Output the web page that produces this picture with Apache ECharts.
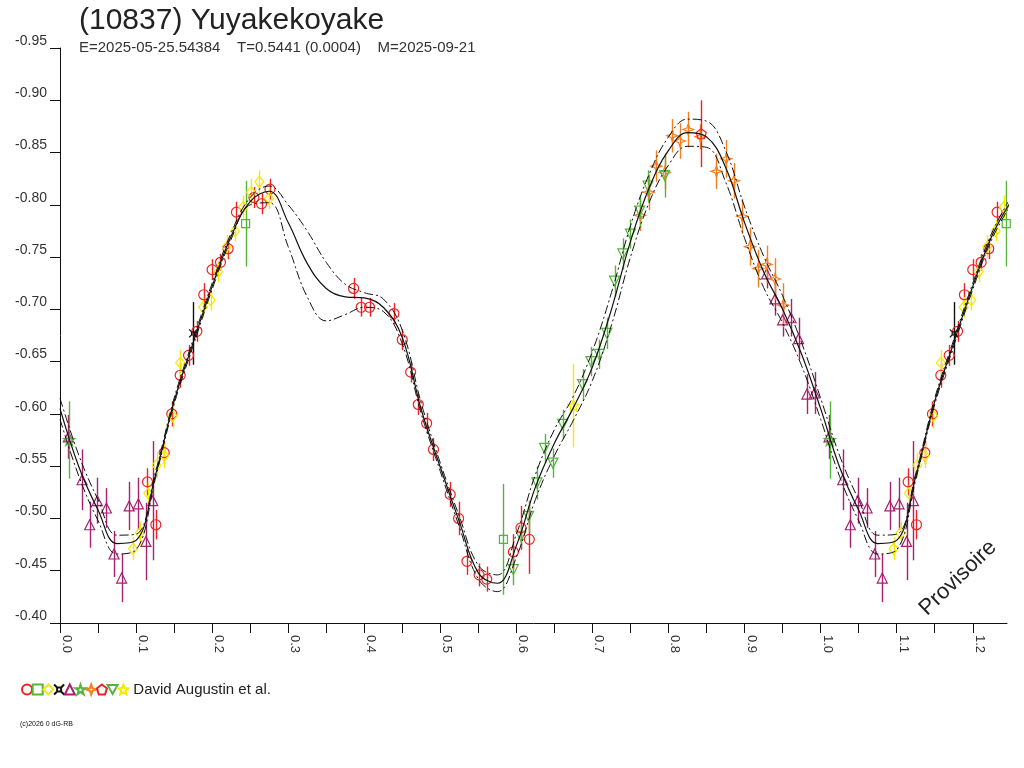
<!DOCTYPE html>
<html>
<head>
<meta charset="utf-8">
<title>(10837) Yuyakekoyake</title>
<script src="https://cdn.jsdelivr.net/npm/echarts@6/dist/echarts.min.js"></script>
<style>
  html, body { margin: 0; padding: 0; background: #fff; }
  #main { width: 1024px; height: 768px; }
</style>
</head>
<body>
<div id="main"></div>
<script>
// fitted light curve (solid) and its two limit curves, on a phase grid
const curvePhase = [0, 0.025, 0.05, 0.075, 0.1, 0.125, 0.15, 0.175, 0.2, 0.225,
  0.25, 0.275, 0.3, 0.325, 0.35, 0.375, 0.4, 0.425, 0.45, 0.475,
  0.5, 0.525, 0.55, 0.575, 0.6, 0.625, 0.65, 0.675, 0.7, 0.725,
  0.75, 0.775, 0.8, 0.825, 0.85, 0.875, 0.9, 0.925, 0.95, 0.975, 1.0];
const curveMid = [-0.605, -0.549, -0.508, -0.476, -0.479, -0.540, -0.612, -0.668, -0.722, -0.770,
  -0.803, -0.813, -0.783, -0.744, -0.720, -0.712, -0.711, -0.702, -0.673, -0.604,
  -0.549, -0.497, -0.448, -0.438, -0.474, -0.530, -0.572, -0.606, -0.645, -0.700,
  -0.765, -0.817, -0.852, -0.869, -0.865, -0.836, -0.783, -0.736, -0.700, -0.657, -0.605];
const curveUpper = [-0.615, -0.560, -0.518, -0.484, -0.485, -0.543, -0.615, -0.671, -0.725, -0.773,
  -0.807, -0.818, -0.800, -0.775, -0.745, -0.724, -0.716, -0.710, -0.680, -0.610,
  -0.553, -0.502, -0.455, -0.446, -0.485, -0.542, -0.585, -0.617, -0.660, -0.716,
  -0.780, -0.830, -0.865, -0.882, -0.880, -0.852, -0.798, -0.751, -0.713, -0.668, -0.615];
const curveLower = [-0.595, -0.540, -0.498, -0.466, -0.470, -0.537, -0.609, -0.665, -0.719, -0.767,
  -0.800, -0.802, -0.760, -0.712, -0.689, -0.695, -0.702, -0.698, -0.667, -0.600,
  -0.545, -0.492, -0.442, -0.430, -0.463, -0.518, -0.560, -0.594, -0.632, -0.685,
  -0.750, -0.803, -0.838, -0.856, -0.855, -0.822, -0.768, -0.721, -0.687, -0.646, -0.595];

// observations: [phase, magnitude, error]
const redCircle = [
  [0.115, -0.535, 0.013], [0.126, -0.494, 0.014], [0.137, -0.563, 0.011], [0.147, -0.600, 0.012],
  [0.158, -0.637, 0.012], [0.169, -0.656, 0.010], [0.180, -0.679, 0.010], [0.189, -0.714, 0.011],
  [0.200, -0.738, 0.010], [0.211, -0.745, 0.008], [0.221, -0.758, 0.010], [0.232, -0.793, 0.010],
  [0.255, -0.807, 0.010], [0.265, -0.801, 0.010], [0.276, -0.815, 0.010], [0.386, -0.720, 0.010],
  [0.396, -0.702, 0.009], [0.407, -0.702, 0.009], [0.439, -0.696, 0.010], [0.450, -0.671, 0.010],
  [0.461, -0.640, 0.010], [0.471, -0.609, 0.010], [0.482, -0.591, 0.010], [0.491, -0.566, 0.011],
  [0.513, -0.523, 0.012], [0.524, -0.500, 0.016], [0.535, -0.459, 0.013], [0.551, -0.446, 0.011],
  [0.561, -0.442, 0.012], [0.596, -0.468, 0.017], [0.606, -0.491, 0.021], [0.617, -0.480, 0.033]
];
const greenSquare = [[0.244, -0.782, 0.041], [0.583, -0.480, 0.053]];
const yellowDiamond = [
  [0.096, -0.471, 0.011], [0.105, -0.486, 0.011], [0.116, -0.524, 0.010], [0.127, -0.551, 0.012],
  [0.137, -0.560, 0.012], [0.148, -0.598, 0.012], [0.158, -0.649, 0.012], [0.188, -0.702, 0.010],
  [0.198, -0.709, 0.010], [0.208, -0.736, 0.010], [0.219, -0.760, 0.011], [0.230, -0.775, 0.010],
  [0.241, -0.798, 0.011], [0.251, -0.812, 0.013], [0.262, -0.822, 0.011], [0.275, -0.806, 0.010]
];
const blackCross = [[0.175, -0.677, 0.030]];
const purpleTriangle = [
  [0.011, -0.578, 0.021], [0.029, -0.537, 0.029], [0.039, -0.494, 0.022], [0.049, -0.517, 0.022],
  [0.061, -0.510, 0.019], [0.071, -0.466, 0.022], [0.081, -0.443, 0.023], [0.091, -0.512, 0.023],
  [0.103, -0.514, 0.025], [0.113, -0.478, 0.037], [0.122, -0.517, 0.057], [0.929, -0.734, 0.014],
  [0.940, -0.710, 0.016], [0.950, -0.690, 0.016], [0.961, -0.692, 0.018], [0.971, -0.672, 0.020],
  [0.982, -0.619, 0.019], [0.992, -0.620, 0.020]
];
const greenStar = [[0.012, -0.575, 0.037]];
const orangeStar = [
  [0.763, -0.790, 0.015], [0.774, -0.812, 0.017], [0.784, -0.837, 0.015], [0.795, -0.831, 0.016],
  [0.805, -0.866, 0.016], [0.815, -0.861, 0.017], [0.826, -0.872, 0.017], [0.842, -0.865, 0.012],
  [0.863, -0.832, 0.017], [0.876, -0.844, 0.018], [0.886, -0.823, 0.017], [0.897, -0.789, 0.017],
  [0.907, -0.760, 0.018], [0.918, -0.739, 0.018], [0.929, -0.743, 0.018], [0.940, -0.729, 0.020],
  [0.951, -0.704, 0.021]
];
const redPentagon = [[0.843, -0.868, 0.032]];
const greenDownTriangle = [
  [0.596, -0.451, 0.015], [0.606, -0.483, 0.010], [0.616, -0.502, 0.015], [0.627, -0.534, 0.016],
  [0.637, -0.567, 0.014], [0.648, -0.553, 0.014], [0.661, -0.590, 0.014], [0.687, -0.628, 0.015],
  [0.698, -0.650, 0.014], [0.709, -0.657, 0.014], [0.719, -0.677, 0.015], [0.729, -0.727, 0.015],
  [0.740, -0.753, 0.015], [0.750, -0.772, 0.014], [0.762, -0.794, 0.015], [0.773, -0.818, 0.015],
  [0.795, -0.828, 0.021]
];
const yellowStar = [[0.675, -0.608, 0.040]];

const observer = 'David Augustin et al.';

// phases below 0.25 are shown again after 1.0
function wrap(points) {
  return points.concat(points.filter(p => p[0] > 0 && p[0] <= 0.25).map(p => [p[0] + 1].concat(p.slice(1))));
}
function curve(values) {
  return wrap(curvePhase.map((p, i) => [p, values[i]]));
}

const groups = [
  { name: 'g1', data: redCircle, color: '#ee2222', symbol: 'circle', size: 10 },
  { name: 'g2', data: greenSquare, color: '#55b43c', symbol: 'rect', size: 8 },
  { name: 'g3', data: yellowDiamond, color: '#f5e900', symbol: 'diamond', size: [9, 11] },
  { name: 'g4', data: blackCross, color: '#111', symbol: 'path://M3,3L7,3L7,7L3,7ZM0,0L3,3M10,0L7,3M0,10L3,7M10,10L7,7', size: 8 },
  { name: 'g5', data: purpleTriangle, color: '#a8206f', symbol: 'triangle', size: 10 },
  { name: 'g6', data: greenStar, color: '#55b43c', symbol: 'path://M5,0L6.2,3.6L10,3.6L6.9,5.8L8.1,9.5L5,7.2L1.9,9.5L3.1,5.8L0,3.6L3.8,3.6Z', size: 11 },
  { name: 'g7', data: orangeStar, color: '#f57f1f', symbol: 'path://M5,0L6.3,3.7L10,5L6.3,6.3L5,10L3.7,6.3L0,5L3.7,3.7Z', size: 11 },
  { name: 'g8', data: redPentagon, color: '#ee2222', symbol: 'path://M5,0L10,3.8L8.1,10L1.9,10L0,3.8Z', size: 10 },
  { name: 'g9', data: greenDownTriangle, color: '#55b43c', symbol: 'path://M0,0L10,0L5,9Z', size: 10 },
  { name: 'g10', data: yellowStar, color: '#f5e900', symbol: 'path://M5,0L6.4,3.4L10,3.8L7.2,6.1L8.1,9.8L5,7.8L1.9,9.8L2.8,6.1L0,3.8L3.6,3.4Z', size: 11 }
];

const series = [];
const lineBase = { type: 'line', smooth: 0.4, showSymbol: false, silent: true, z: 4 };
series.push(Object.assign({}, lineBase, { name: 'fit', data: curve(curveMid), lineStyle: { color: '#111', width: 1.2 } }));
series.push(Object.assign({}, lineBase, { name: 'fitUp', data: curve(curveUpper), lineStyle: { color: '#111', width: 1, type: [9, 3, 2, 3] } }));
series.push(Object.assign({}, lineBase, { name: 'fitLow', data: curve(curveLower), lineStyle: { color: '#111', width: 1, type: [9, 3, 2, 3] } }));

groups.forEach(g => {
  const pts = wrap(g.data);
  series.push({
    type: 'custom', name: g.name + 'err', data: pts, clip: true, silent: true, z: 2,
    encode: { x: 0, y: 1 },
    renderItem: (params, api) => {
      const x = api.value(0), y = api.value(1), e = api.value(2);
      const a = api.coord([x, y - e]), b = api.coord([x, y + e]);
      const px = Math.round(a[0]) + 0.5;
      return { type: 'line', shape: { x1: px, y1: a[1], x2: px, y2: b[1] },
        style: { stroke: g.color, lineWidth: 1.4, opacity: 1 } };
    }
  });
  series.push({
    type: 'scatter', name: g.name, data: pts, symbol: g.symbol, symbolSize: g.size,
    clip: true, silent: true, z: 3,
    itemStyle: { color: 'rgba(255,255,255,0)', borderColor: g.color, borderWidth: 1.2, opacity: 1 }
  });
});

const font = '"Liberation Sans", Arial, sans-serif';
const chart = echarts.init(document.getElementById('main'));
chart.setOption({
  animation: false,
  backgroundColor: '#fff',
  title: {
    text: '(10837) Yuyakekoyake',
    subtext: 'E=2025-05-25.54384    T=0.5441 (0.0004)    M=2025-09-21',
    left: 74, top: 1, itemGap: 4,
    textStyle: { fontFamily: font, fontSize: 30, fontWeight: 'normal', color: '#222' },
    subtextStyle: { fontFamily: font, fontSize: 15, color: '#333' }
  },
  legend: {
    data: groups.map(g => g.name),
    left: 16, top: 677, itemWidth: 10, itemHeight: 10, itemGap: -1.3,
    selectedMode: false,
    formatter: name => name === 'g10' ? observer : '',
    textStyle: { fontFamily: font, fontSize: 15, color: '#222' }
  },
  grid: { left: 60, right: 17, top: 48, bottom: 145, containLabel: false },
  xAxis: {
    type: 'value', min: 0, max: 1.245, interval: 0.05,
    axisLine: { onZero: false, lineStyle: { color: '#111' } },
    axisTick: { length: 10, lineStyle: { color: '#111' } },
    splitLine: { show: false },
    axisLabel: {
      rotate: -90, margin: 12, fontFamily: font, fontSize: 13, color: '#333',
      verticalAlign: 'bottom', showMaxLabel: false,
      formatter: v => Math.round(v * 100) % 10 === 0 ? v.toFixed(1) : ''
    }
  },
  yAxis: {
    type: 'value', min: -0.95, max: -0.40, interval: 0.05, inverse: true,
    axisLine: { show: true, lineStyle: { color: '#111' } },
    axisTick: { show: true, length: 10, lineStyle: { color: '#111' } },
    splitLine: { show: false },
    axisLabel: {
      margin: 13, fontFamily: font, fontSize: 14, color: '#333', verticalAlign: 'bottom',
      formatter: v => v.toFixed(2)
    }
  },
  graphic: [
    { type: 'text', x: 958, y: 578, rotation: 44 * Math.PI / 180,
      style: { text: 'Provisoire', font: '22px ' + font, fill: '#222', align: 'center', verticalAlign: 'middle' } },
    { type: 'text', left: 20, top: 721,
      style: { text: '(c)2026 0 dG-RB', font: '7px ' + font, fill: '#111' } }
  ],
  series: series
});
</script>
</body>
</html>
